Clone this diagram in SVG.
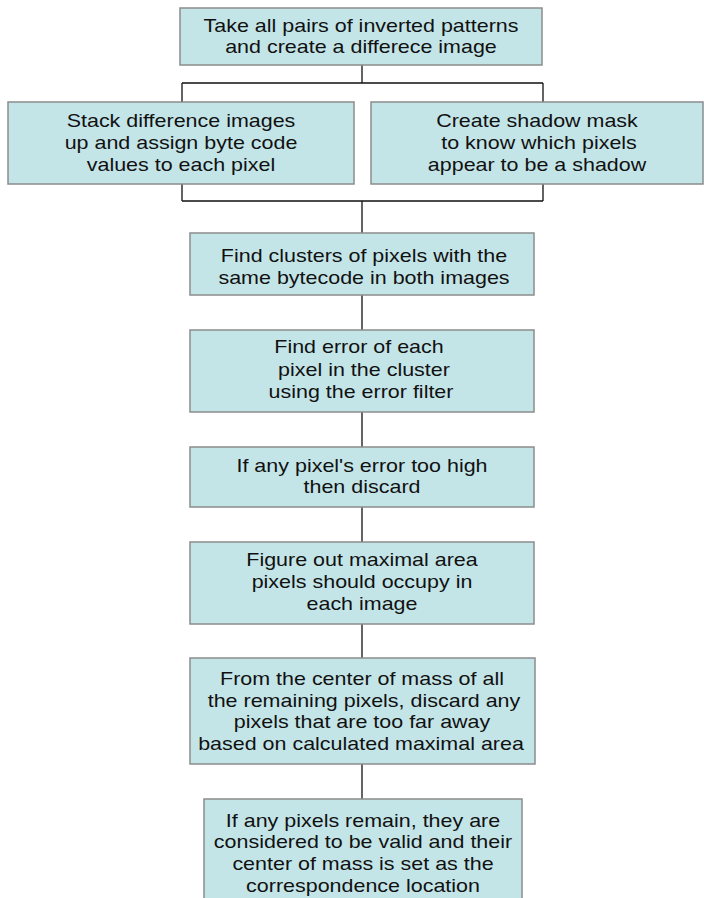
<svg xmlns="http://www.w3.org/2000/svg" width="704" height="898" viewBox="0 0 704 898">
<style>
.box{fill:#c4e5e8;stroke:#8c8c8c;stroke-width:1.5}
.t{font-family:"Liberation Sans",Arial,sans-serif;font-size:19px;fill:#111;text-anchor:middle}
.c{fill:none;stroke:#111;stroke-width:1.3}
</style>
<rect width="704" height="898" fill="#fff"/>
<g id="connectors">
<path class="c" d="M362,65 V83 M182,83 H543 M182,83 V102 M543,83 V102"/>
<path class="c" d="M182,184 V201 M543,184 V201 M182,201 H543 M362,201 V233"/>
<path class="c" d="M362,295 V330"/>
<path class="c" d="M362,412 V447"/>
<path class="c" d="M362,507 V542"/>
<path class="c" d="M362,624 V658"/>
<path class="c" d="M362,764 V799"/>
</g>
<g id="n1">
<rect class="box" x="180" y="8" width="362" height="57"/>
<text class="t" transform="translate(361 31.5) scale(1.13 1)">Take all pairs of inverted patterns</text>
<text class="t" transform="translate(361 53) scale(1.13 1)">and create a differece image</text>
</g>
<g id="n2">
<rect class="box" x="8" y="102" width="346" height="82"/>
<text class="t" transform="translate(181 127.3) scale(1.13 1)">Stack difference images</text>
<text class="t" transform="translate(181 149.3) scale(1.13 1)">up and assign byte code</text>
<text class="t" transform="translate(181 171) scale(1.13 1)">values to each pixel</text>
</g>
<g id="n3">
<rect class="box" x="371" y="102" width="332" height="82"/>
<text class="t" transform="translate(537 127.3) scale(1.13 1)">Create shadow mask</text>
<text class="t" transform="translate(539 149.3) scale(1.13 1)">to know which pixels</text>
<text class="t" transform="translate(537 171) scale(1.13 1)">appear to be a shadow</text>
</g>
<g id="n4">
<rect class="box" x="190" y="233" width="344" height="62"/>
<text class="t" transform="translate(364 261.7) scale(1.13 1)">Find clusters of pixels with the</text>
<text class="t" transform="translate(364 283.5) scale(1.13 1)">same bytecode in both images</text>
</g>
<g id="n5">
<rect class="box" x="190" y="330" width="344" height="82"/>
<text class="t" transform="translate(359 353.3) scale(1.13 1)">Find error of each</text>
<text class="t" transform="translate(364 376) scale(1.13 1)">pixel in the cluster</text>
<text class="t" transform="translate(361 398.3) scale(1.13 1)">using the error filter</text>
</g>
<g id="n6">
<rect class="box" x="190" y="447" width="344" height="60"/>
<text class="t" transform="translate(362 471.7) scale(1.13 1)">If any pixel's error too high</text>
<text class="t" transform="translate(362 492.7) scale(1.13 1)">then discard</text>
</g>
<g id="n7">
<rect class="box" x="190" y="542" width="344" height="82"/>
<text class="t" transform="translate(362 566) scale(1.13 1)">Figure out maximal area</text>
<text class="t" transform="translate(362 588.3) scale(1.13 1)">pixels should occupy in</text>
<text class="t" transform="translate(362 610) scale(1.13 1)">each image</text>
</g>
<g id="n8">
<rect class="box" x="190" y="658" width="345" height="106"/>
<text class="t" transform="translate(362 685) scale(1.13 1)">From the center of mass of all</text>
<text class="t" transform="translate(364 706.7) scale(1.13 1)">the remaining pixels, discard any</text>
<text class="t" transform="translate(362 728.3) scale(1.13 1)">pixels that are too far away</text>
<text class="t" transform="translate(361 750) scale(1.13 1)">based on calculated maximal area</text>
</g>
<g id="n9">
<rect class="box" x="204" y="799" width="318" height="115"/>
<text class="t" transform="translate(363 826.7) scale(1.13 1)">If any pixels remain, they are</text>
<text class="t" transform="translate(363 848.3) scale(1.13 1)">considered to be valid and their</text>
<text class="t" transform="translate(363 870) scale(1.13 1)">center of mass is set as the</text>
<text class="t" transform="translate(363 891.7) scale(1.13 1)">correspondence location</text>
</g>
</svg>
